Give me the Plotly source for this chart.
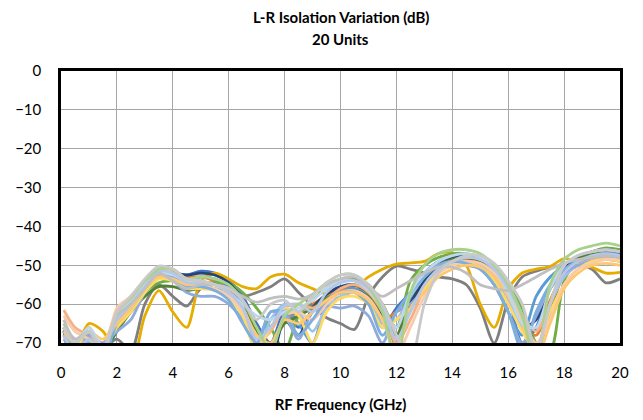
import plotly.graph_objects as go

freq_ghz = [0.1, 0.5, 1.0, 1.5, 2.0, 2.5, 3.0, 3.5, 4.0, 4.5, 5.0, 5.5, 6.0, 6.5, 7.0, 7.5, 8.0, 8.5, 9.0, 9.5,
            10.0, 10.5, 11.0, 11.5, 12.0, 12.5, 13.0, 13.5, 14.0, 14.5, 15.0, 15.5, 16.0, 16.5, 17.0, 17.5, 18.0, 18.5, 19.0, 19.5, 20.0]

unit_01 = [-66, -72, -67, -74, -64, -60, -55, -51.5, -52, -52.5, -51.5, -52, -54, -58, -65, -70, -62, -66, -62, -58,
           -56, -55.5, -58, -66, -61, -57, -52, -49, -48, -48, -49, -52, -58, -70, -66, -56, -51, -48.5, -47, -46.5, -47]
unit_02 = [-66, -70, -66, -72, -63, -59, -54.5, -51, -51.5, -53, -53, -54, -56, -60, -67, -71, -64, -62, -60, -58,
           -56.5, -56, -58, -64, -62, -60, -55, -51, -49, -48.5, -49.5, -53, -59, -66, -68, -59, -52, -49, -47.5, -47, -47.5]
unit_03 = [-67, -72, -68, -71, -69, -72, -60, -55, -58, -60.5, -56, -55, -56, -58, -57, -55.5, -53.5, -57, -60.5, -63.5,
           -65, -66.5, -58, -53, -50.2, -51, -52, -53, -53.5, -55, -61, -70, -59, -53, -51.5, -50.5, -50, -50, -51, -54.5, -53.5]
unit_04 = [-66, -71, -65, -67, -73, -76, -63, -56.5, -62, -66, -54, -52, -53.5, -55.5, -56, -53, -52.3, -54.5, -56, -57.5,
           -58.5, -56, -53, -51, -49.7, -49.4, -49, -47, -46.8, -50, -60, -66, -56, -52, -51, -50.3, -48.3, -49, -50.5, -52, -51.8]
unit_05 = [-68, -73, -68, -76, -66, -61, -56, -52, -52.5, -54, -53, -53.5, -55.5, -60, -68, -64, -61, -65, -70, -60,
           -57, -56, -58, -63, -70, -59, -53, -50, -48.5, -49, -51, -55, -62, -68, -58, -53, -50, -48, -47, -46.5, -47.5]
unit_06 = [-67, -71, -68, -74, -65, -61, -57, -54.5, -54, -55, -54.5, -54.5, -54.5, -57, -61, -66, -72, -63, -59, -56,
           -54, -53.5, -55, -60, -66, -54, -50, -48, -47, -47, -48, -51, -55, -61, -70, -72, -54, -48.5, -46.5, -45.5, -46]
unit_07 = [-67, -73, -69, -75, -63, -59.5, -55, -52, -52, -52.5, -52, -52.5, -54.5, -59, -66, -75, -64, -68, -61, -57.5,
           -55.5, -55, -57, -63, -72, -60, -54, -50, -48, -47.5, -48.5, -52, -58, -66, -64, -56, -50.5, -48, -46.5, -46, -46.5]
unit_08 = [-70, -74, -69, -72, -67, -62, -58, -55.5, -55.5, -56.5, -56, -56, -57.5, -61, -67, -70, -65, -63, -61, -58.5,
           -57, -56.5, -58, -62, -68, -58, -53, -50, -48.5, -48, -49, -52, -57, -64, -72, -62, -52, -48.5, -47, -46, -46.5]
unit_09 = [-61.5, -66, -68, -70, -62, -58, -54, -50.5, -51, -54, -54, -55, -57, -62, -70, -67, -61, -60, -61, -59,
           -56, -55, -57, -62, -70, -64, -56, -51, -49, -48, -48.5, -51, -56, -63, -67, -60, -53, -50, -48.5, -48, -48]
unit_10 = [-66, -69, -70, -73, -64, -60, -55, -51.5, -52.5, -55, -55, -56, -58, -63, -72, -64, -60, -62, -67, -61,
           -58, -57, -59, -65, -64, -58, -53, -50, -49, -49, -50, -53, -59, -66, -72, -60, -53, -50, -49, -48.5, -49]
unit_11 = [-69, -72, -68, -70, -67, -64, -57, -53, -54, -57, -58, -58, -60, -64, -70, -62, -63, -69, -62, -60.5,
           -61, -60.5, -63, -70, -62, -60, -56, -52, -50, -50, -51, -55, -62, -70, -63, -56, -52, -50, -49, -48.5, -49]
unit_12 = [-68, -72, -66, -71, -66, -62, -57, -53.5, -54, -56, -56, -56.5, -58.5, -63, -72, -66, -61, -63, -70, -62,
           -58.5, -58, -60, -66, -64, -61, -56, -52, -50, -49.5, -50.5, -54, -60, -67, -72, -62, -55, -51, -49, -48.5, -49]
unit_13 = [-63, -67, -69, -72, -61, -58, -54, -51, -52, -55, -55.5, -56, -58, -62, -68, -72, -63, -62, -64, -60,
           -57, -56.5, -58.5, -64, -73, -66, -58, -52, -50, -49, -49.5, -52, -57, -64, -70, -64, -55, -51, -49.5, -48.5, -48.5]
unit_14 = [-67, -71, -70, -74, -65, -61, -56, -52.5, -53, -55.5, -55.5, -56.5, -59, -65, -70, -62, -62, -68, -64, -59,
           -57, -57, -60, -68, -62, -57, -53, -50, -49, -49.5, -51, -55, -62, -72, -62, -55, -51, -49, -48, -47.5, -48]
unit_15 = [-67, -70, -67, -69, -65, -61, -56, -53, -53.5, -55, -54.5, -55, -57, -61, -68, -70, -64, -65, -62, -59,
           -57, -57, -59, -64, -72, -61, -57, -53, -51, -50, -50.5, -53, -58, -65, -74, -65, -56, -52, -50, -49.5, -50]
unit_16 = [-66, -70, -66, -71, -63, -59, -55, -52, -52.5, -54, -54, -55, -57, -60, -63, -64, -62, -61, -59, -56,
           -54, -54, -56.5, -61, -66, -57, -52, -49, -47.5, -47, -48, -51, -57, -65, -66, -56, -50, -47.5, -46.5, -46, -46.5]
unit_17 = [-68, -72, -69, -71, -64, -60, -55.5, -51.5, -52, -54.5, -54.5, -55, -57, -61, -69, -66, -60.5, -60, -62, -57,
           -54.5, -54, -56, -61, -69, -62, -55, -51, -49, -48, -48.5, -51, -56, -63, -72, -60, -52, -49, -47.5, -47, -47.5]
unit_18 = [-65, -70, -67, -73, -62, -58.5, -54, -51, -51, -53.5, -53, -53.5, -55, -59, -66, -72, -63, -60, -57.5, -54.5,
           -52.5, -52.5, -55.5, -62, -75, -57, -50, -47, -46, -46, -47, -50, -55, -63, -75, -55, -48.5, -46, -45, -44.3, -45]
unit_19 = [-64, -69, -67, -72, -63, -60, -56, -52, -54, -56, -55, -55, -56, -58, -59.5, -58.5, -58, -58.7, -57.5, -55,
           -53.5, -53, -55.5, -58, -56, -54, -52, -50.5, -50.5, -52, -55, -56, -56.5, -55, -53, -51, -49.5, -48.5, -48, -47.5, -48]
unit_20 = [-66, -70, -67, -72, -62, -58, -53.5, -50.2, -51, -53.5, -54, -55, -56, -59, -64, -60, -59, -62, -58, -54.5,
           -52.5, -52.5, -55, -60, -68, -75, -60, -52, -49, -47.5, -47.5, -49.5, -54, -60, -72, -60, -50, -47.5, -46.5, -46, -46.5]

units = [unit_01, unit_02, unit_03, unit_04, unit_05, unit_06, unit_07, unit_08, unit_09, unit_10,
         unit_11, unit_12, unit_13, unit_14, unit_15, unit_16, unit_17, unit_18, unit_19, unit_20]
unit_names = ["Unit %d" % (i + 1) for i in range(20)]
colors = ["#4472C4", "#ED7D31", "#7F7F7F", "#E6AC00", "#5B9BD5", "#70AD47", "#264478", "#548235",
          "#F4B183", "#9DC3E6", "#8FAADC", "#FFD966", "#F8CBAD", "#7CAFDD", "#FFC870", "#BDD7EE",
          "#B4C7E7", "#A9D18E", "#BFBFBF", "#C9C9C9"]

title_lines = ["L-R Isolation Variation (dB)", "20 Units"]
y_ticks = [0, -10, -20, -30, -40, -50, -60, -70]
x_ticks = [0, 2, 4, 6, 8, 10, 12, 14, 16, 18, 20]

fig = go.Figure()
for name, vals, col in zip(unit_names, units, colors):
    fig.add_trace(go.Scatter(x=freq_ghz, y=vals, mode="lines", name=name,
                             line=dict(color=col, width=2.8, shape="spline", smoothing=0.8)))

font_family = "Lato, 'Open Sans', sans-serif"
fig.update_layout(
    width=643, height=420,
    margin=dict(l=53, r=31, t=63, b=85, autoexpand=False),
    paper_bgcolor="white", plot_bgcolor="white",
    showlegend=False,
    font=dict(family=font_family, size=15, color="#000000"),
)
for txt, ypos in zip(title_lines, [1.199, 1.117]):
    fig.add_annotation(text="<b>%s</b>" % txt, xref="paper", yref="paper", x=0.5, y=ypos,
                       xanchor="center", yanchor="middle", showarrow=False,
                       font=dict(family=font_family, size=15, color="#000000"))
fig.update_xaxes(range=[0, 20], tickvals=x_ticks, showgrid=True, gridcolor="#A6A6A6", gridwidth=1,
                 showline=True, linecolor="black", linewidth=2.5, mirror=True, zeroline=False,
                 ticks="", ticklabelstandoff=14, tickfont=dict(size=15), automargin=False,
                 title=dict(text="<b>RF Frequency (GHz)</b>", font=dict(size=15), standoff=20))
fig.update_yaxes(range=[-70, 0], tickvals=y_ticks, showgrid=True, gridcolor="#A6A6A6", gridwidth=1,
                 showline=True, linecolor="black", linewidth=2.5, mirror=True, zeroline=False,
                 ticks="", ticklabelstandoff=14, tickfont=dict(size=15), automargin=False)

fig.write_html("out.html")
